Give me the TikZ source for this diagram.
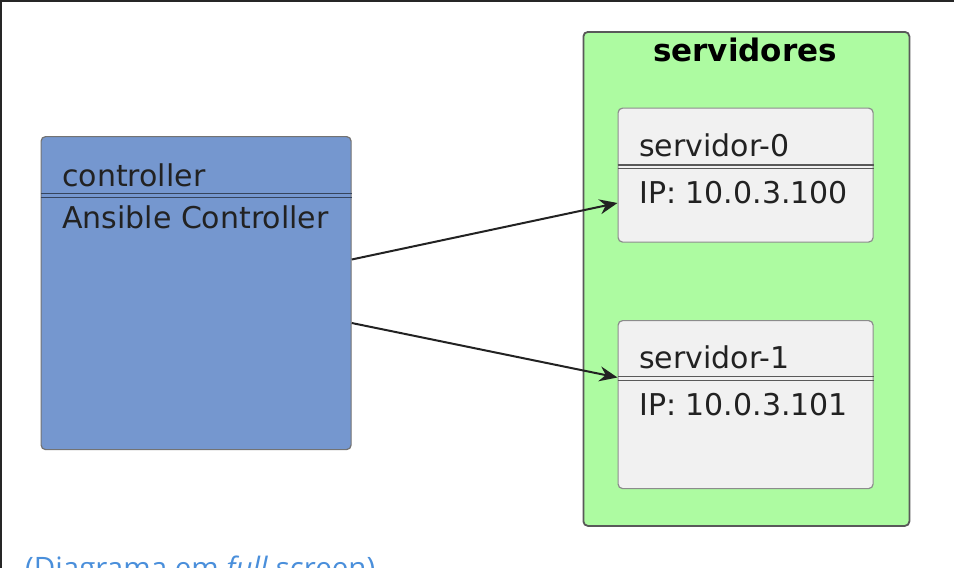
\documentclass[tikz,border=0pt]{standalone}
\usepackage{fontspec}
\setmainfont{DejaVu Sans}
\newfontfamily\linkfont{Open Sans}
\usetikzlibrary{arrows.meta}
\definecolor{ctrlfill}{HTML}{7597CF}
\definecolor{grpfill}{HTML}{ADFBA1}
\definecolor{srvfill}{HTML}{F1F1F1}
\definecolor{txt}{HTML}{222222}
\definecolor{linkblue}{HTML}{4A8FDB}
\tikzset{
  boxbase/.style={draw, rounded corners=4.5pt, anchor=north west, inner sep=0pt},
  ctrlbox/.style={boxbase, fill=ctrlfill, draw=black!55, line width=1.2pt},
  grpbox/.style={boxbase, fill=grpfill, draw=black!65, line width=1.8pt},
  srvbox/.style={boxbase, fill=srvfill, draw=black!45, line width=1.2pt},
  lbl/.style={anchor=base west, inner sep=0pt, text=txt, font=\fontsize{30}{36}\selectfont},
  sep/.style={line width=1.3pt},
  arr/.style={draw=txt, line width=2pt, -{Stealth[length=18pt,width=15pt,inset=6pt]}},
}
\begin{document}
\begin{tikzpicture}[x=1pt,y=-1pt]
\useasboundingbox (0,0) rectangle (954,568);
\fill[white] (0,0) rectangle (954,568);
\fill[black!85] (0,0) rectangle (954,2);
\fill[black!85] (0,0) rectangle (2,568);
% controller
\node[ctrlbox, minimum width=310pt, minimum height=313pt] (ctrl) at (40.5,136) {};
\node[lbl] (ctrlname) at (62,186) {controller};
\draw[sep, draw=ctrlfill!45!black] (ctrl.west |- 0,193.5) -- (ctrl.east |- 0,193.5);
\draw[sep, draw=ctrlfill!45!black] (ctrl.west |- 0,197.5) -- (ctrl.east |- 0,197.5);
\node[lbl] (ctrldesc) at (62,228) {Ansible Controller};
% group
\node[grpbox, minimum width=326pt, minimum height=494pt] (grp) at (582.5,31) {};
\node[anchor=base, inner sep=0pt, text=black, font=\bfseries\fontsize{31}{37}\selectfont] (grptitle) at (745,61.5) {servidores};
% servidor-0
\node[srvbox, minimum width=255pt, minimum height=134pt] (s0) at (617.5,107.5) {};
\node[lbl] (s0name) at (639,156.5) {servidor-0};
\draw[sep, draw=black!65] (s0.west |- 0,165) -- (s0.east |- 0,165);
\draw[sep, draw=black!65] (s0.west |- 0,168.5) -- (s0.east |- 0,168.5);
\node[lbl] (s0ip) at (639,203) {IP: 10.0.3.100};
% servidor-1
\node[srvbox, minimum width=255pt, minimum height=168pt] (s1) at (617.5,320) {};
\node[lbl] (s1name) at (639,368) {servidor-1};
\draw[sep, draw=black!65] (s1.west |- 0,376.7) -- (s1.east |- 0,376.7);
\draw[sep, draw=black!65] (s1.west |- 0,380.2) -- (s1.east |- 0,380.2);
\node[lbl] (s1ip) at (639,415) {IP: 10.0.3.101};
% arrows
\draw[arr] (ctrl.east |- 0,259.5) -- (s0.west |- 0,203);
\draw[arr] (ctrl.east |- 0,323) -- (s1.west |- 0,377.5);
% link
\node[anchor=base west, inner sep=0pt, text=linkblue, font=\linkfont\fontsize{29.5}{35}\selectfont] (link) at (25,578) {(Diagrama em \textit{full} screen)};
\end{tikzpicture}
\end{document}
